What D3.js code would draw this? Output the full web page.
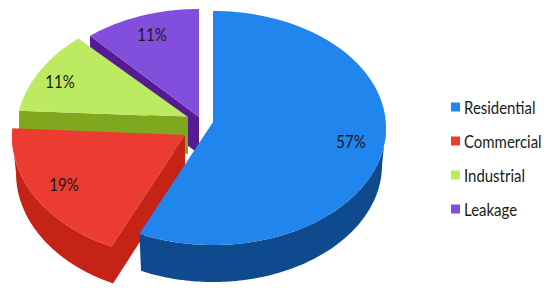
<!DOCTYPE html>
<html>
<head>
<meta charset="utf-8">
<script src="https://cdn.jsdelivr.net/npm/d3@7"></script>
<style>
  html, body { margin: 0; padding: 0; background: #fff; }
  text { font-family: Lato, "Open Sans", sans-serif; fill: #1a1a1a; }
</style>
</head>
<body>
<div id="chart"></div>
<script>
// the printed shares only add to 98, the picture leaves the other 2 as a jump between red and green
const categories = ['Residential', 'Commercial', 'Unlabelled', 'Industrial', 'Leakage'];
const shares = [57, 19, 2, 11, 11];

const width = 550;
const height = 294;

// one entry per category: exploded centre, apex of the wedge, radii, colours
const cxs = [213, 185, 0, 188, 199];
const cys = [128, 136, 0, 134, 126];
const apexYs = [122, 135, 0, 117, 117];
const radiiX = [173, 173, 0, 172, 171];
const radiiY = [117, 122, 0, 124, 117];
const topColors = ['#2085ec', '#ec3b30', 'none', '#bcea60', '#824fdc'];
const sideColors = ['#0f4a8f', '#c42316', 'none', '#7fa81f', '#561b92'];
const labelXs = [351, 64, 0, 60, 152];
const labelYs = [141, 184, 0, 81, 34];
const depth = 37;
const lowShrink = 4;  // bottom rim is a bit narrower, so the wall tapers at its ends

const svg = d3.select('#chart')
  .append('svg')
    .attr('width', width)
    .attr('height', height)
    .style('display', 'block');

const pie = d3.pie().sort(null).value(d => d.share);
const slices = pie(categories.map((name, i) => ({ name, share: shares[i], i })))
  .filter(s => s.data.name !== 'Unlabelled');

const line = d3.line();

// angle is clockwise from 12 o'clock, like d3.pie
function rimPoints(i, from, to, dy = 0, shrink = 0) {
  const steps = Math.max(2, Math.ceil(Math.abs(to - from) / 0.02));
  return d3.range(steps + 1).map(k => {
    const a = from + (to - from) * k / steps;
    return [cxs[i] + (radiiX[i] - shrink) * Math.sin(a), cys[i] - radiiY[i] * Math.cos(a) + dy];
  });
}

// back slices first, so the front slices cover them
const drawOrder = slices.slice().reverse();
const groups = svg.selectAll('g.slice')
  .data(drawOrder)
  .join('g')
    .attr('class', 'slice');

groups.append('path')
  .attr('fill', d => sideColors[d.data.i])
  .attr('d', d => {
    const i = d.data.i;
    const apex = [cxs[i], apexYs[i]];
    const apexLow = [cxs[i], apexYs[i] + depth];
    if (d.data.name === 'Residential') {
      // outer wall from the right side round to the cut
      const top = rimPoints(i, Math.PI / 2, d.endAngle);
      const low = rimPoints(i, d.endAngle, Math.PI / 2, depth, lowShrink);
      return line(top.concat(low)) + 'Z';
    }
    if (d.data.name === 'Commercial') {
      // cut face plus outer wall round to the left
      const low = rimPoints(i, d.startAngle, Math.PI * 1.5, depth, lowShrink);
      const top = rimPoints(i, Math.PI * 1.5, d.startAngle);
      return line([apex, apexLow].concat(low, top)) + 'Z';
    }
    // the other two only show the cut face along their first edge
    const rim = rimPoints(i, d.startAngle, d.startAngle)[0];
    return line([rim, apex, apexLow, [rim[0], rim[1] + depth]]) + 'Z';
  });

groups.append('path')
  .attr('fill', d => topColors[d.data.i])
  .attr('d', d => {
    const i = d.data.i;
    return line([[cxs[i], apexYs[i]]].concat(rimPoints(i, d.startAngle, d.endAngle))) + 'Z';
  });

groups.append('text')
  .attr('transform', d => `translate(${labelXs[d.data.i]}, ${labelYs[d.data.i]}) scale(0.88, 1)`)
  .attr('text-anchor', 'middle')
  .attr('dominant-baseline', 'central')
  .style('font-size', '17px')
  .text(d => d.data.share + '%');

// Legend
const legendRows = d3.scalePoint()
  .domain(slices.map(s => s.data.name))
  .range([107, 209]);

const legend = svg.selectAll('g.legend')
  .data(slices)
  .join('g')
    .attr('class', 'legend')
    .attr('transform', d => `translate(451, ${legendRows(d.data.name)})`);

legend.append('rect')
  .attr('y', -4.5)
  .attr('width', 9)
  .attr('height', 9)
  .attr('fill', d => topColors[d.data.i]);

legend.append('text')
  .attr('transform', 'translate(13, 0) scale(0.88, 1)')
  .attr('dominant-baseline', 'central')
  .style('font-size', '17px')
  .text(d => d.data.name);
</script>
</body>
</html>
